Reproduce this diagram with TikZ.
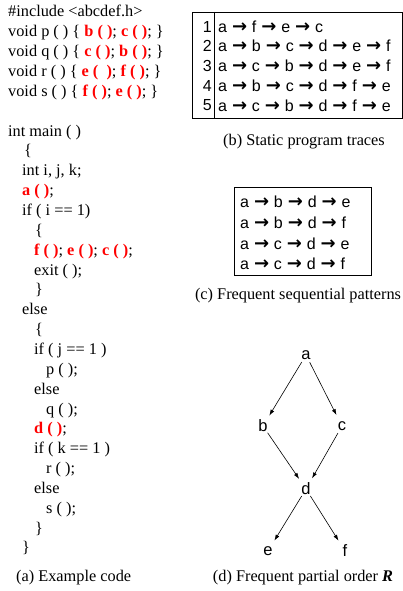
\documentclass[tikz,border=0pt]{standalone}
\usepackage{fontspec}
\setmainfont{Liberation Serif}
\newfontfamily\sansf{Liberation Sans}
\newfontfamily\arrowf{DejaVu Sans}
\usetikzlibrary{arrows.meta}
\newcommand\redc[1]{\textcolor{red}{\textbf{#1}}}
\newcommand\ar{\hspace{4.9pt}{\arrowf\bfseries\fontsize{18}{16}\selectfont →}\hspace{4.9pt}}
\tikzset{
  code/.style={anchor=base west, inner sep=0pt, font=\fontsize{16.3}{19.8}\selectfont},
  capt/.style={inner sep=0pt, font=\fontsize{16.3}{19.8}\selectfont},
  trace/.style={anchor=west, inner sep=0pt, font=\sansf\fontsize{16}{19}\selectfont},
  num/.style={anchor=east, inner sep=0pt, font=\sansf\fontsize{16}{19}\selectfont},
  gnode/.style={circle, inner sep=0pt, minimum size=16pt, font=\sansf\fontsize{16.5}{19}\selectfont},
  garrow/.style={-{Latex[length=6pt,width=4pt]}, line width=0.6pt, shorten >=4pt},
  frame/.style={draw, line width=0.8pt}
}
\begin{document}
\begin{tikzpicture}[x=1pt,y=-1pt]
\useasboundingbox (0,0) rectangle (403,591);
% ---------- (a) code ----------
\node[code] (l0) at (8,{17+19.85*0}) {\#include <abcdef.h>};
\node[code] (l1) at (8,{17+19.85*1}) {void p ( ) \{ \redc{b ( )}; \redc{c ( )}; \}};
\node[code] (l2) at (8,{17+19.85*2}) {void q ( ) \{ \redc{c ( )}; \redc{b ( )}; \}};
\node[code] (l3) at (8,{17+19.85*3}) {void r ( ) \{ \redc{e (~~)}; \redc{f ( )}; \}};
\node[code] (l4) at (8,{17+19.85*4}) {void s ( ) \{ \redc{f ( )}; \redc{e ( )}; \}};
\node[code] (l6) at (8,{17+19.85*6}) {int main ( )};
\node[code] (l7) at (24,{17+19.85*7}) {\{};
\node[code] (l8) at (22,{17+19.85*8}) {int i, j, k;};
\node[code] (l9) at (22,{17+19.85*9}) {\redc{a ( )};};
\node[code] (l10) at (22,{17+19.85*10}) {if ( i == 1)};
\node[code] (l11) at (35,{17+19.85*11}) {\{};
\node[code] (l12) at (34,{17+19.85*12}) {\redc{f ( )}; \redc{e ( )}; \redc{c ( )};};
\node[code] (l13) at (34,{17+19.85*13}) {exit ( );};
\node[code] (l14) at (35,{17+19.85*14}) {\}};
\node[code] (l15) at (22,{17+19.85*15}) {else};
\node[code] (l16) at (35,{17+19.85*16}) {\{};
\node[code] (l17) at (34,{17+19.85*17}) {if ( j == 1 )};
\node[code] (l18) at (46,{17+19.85*18}) {p ( );};
\node[code] (l19) at (34,{17+19.85*19}) {else};
\node[code] (l20) at (46,{17+19.85*20}) {q ( );};
\node[code] (l21) at (34,{17+19.85*21}) {\redc{d ( )};};
\node[code] (l22) at (34,{17+19.85*22}) {if ( k == 1 )};
\node[code] (l23) at (46,{17+19.85*23}) {r ( );};
\node[code] (l24) at (34,{17+19.85*24}) {else};
\node[code] (l25) at (46,{17+19.85*25}) {s ( );};
\node[code] (l26) at (35,{17+19.85*26}) {\}};
\node[code] (l27) at (22,{17+19.85*27}) {\}};
\node[capt, anchor=west] (capa) at (16,578) {(a) Example code};
% ---------- (b) traces ----------
\draw[frame] (192,12) rectangle (402,118);
\draw[line width=0.8pt] (214,12) -- (214,118);
\foreach \i/\txt in {1/{a\ar f\ar e\ar c},
                   2/{a\ar b\ar c\ar d\ar e\ar f},
                   3/{a\ar c\ar b\ar d\ar e\ar f},
                   4/{a\ar b\ar c\ar d\ar f\ar e},
                   5/{a\ar c\ar b\ar d\ar f\ar e}}{
  \node[num] (n\i) at (212,{26.5+19.7*(\i-1)}) {\i};
  \node[trace] (t\i) at (218,{26.5+19.7*(\i-1)}) {\txt};
}
\node[capt] (capb) at (304,142) {(b) Static program traces};
% ---------- (c) patterns ----------
\draw[frame] (234,187) rectangle (371,275);
\foreach \i/\txt in {1/{a\ar b\ar d\ar e},
                   2/{a\ar b\ar d\ar f},
                   3/{a\ar c\ar d\ar e},
                   4/{a\ar c\ar d\ar f}}{
  \node[trace] (p\i) at (240,{202+20.7*(\i-1)}) {\txt};
}
\node[capt] (capc) at (298,296) {(c) Frequent sequential patterns};
% ---------- (d) partial order ----------
\node[gnode] (a) at (306,355) {a};
\node[gnode] (b) at (263,426) {b};
\node[gnode] (c) at (342,426) {c};
\node[gnode] (d) at (306,489) {d};
\node[gnode] (e) at (268,551) {e};
\node[gnode] (f) at (345,551) {f};
\draw[garrow] (a) -- (b);
\draw[garrow] (a) -- (c);
\draw[garrow] (b) -- (d);
\draw[garrow] (c) -- (d);
\draw[garrow] (d) -- (e);
\draw[garrow] (d) -- (f);
\node[capt] (capd) at (303,578) {(d) Frequent partial order \textbf{\textit{R}}};
\end{tikzpicture}
\end{document}
